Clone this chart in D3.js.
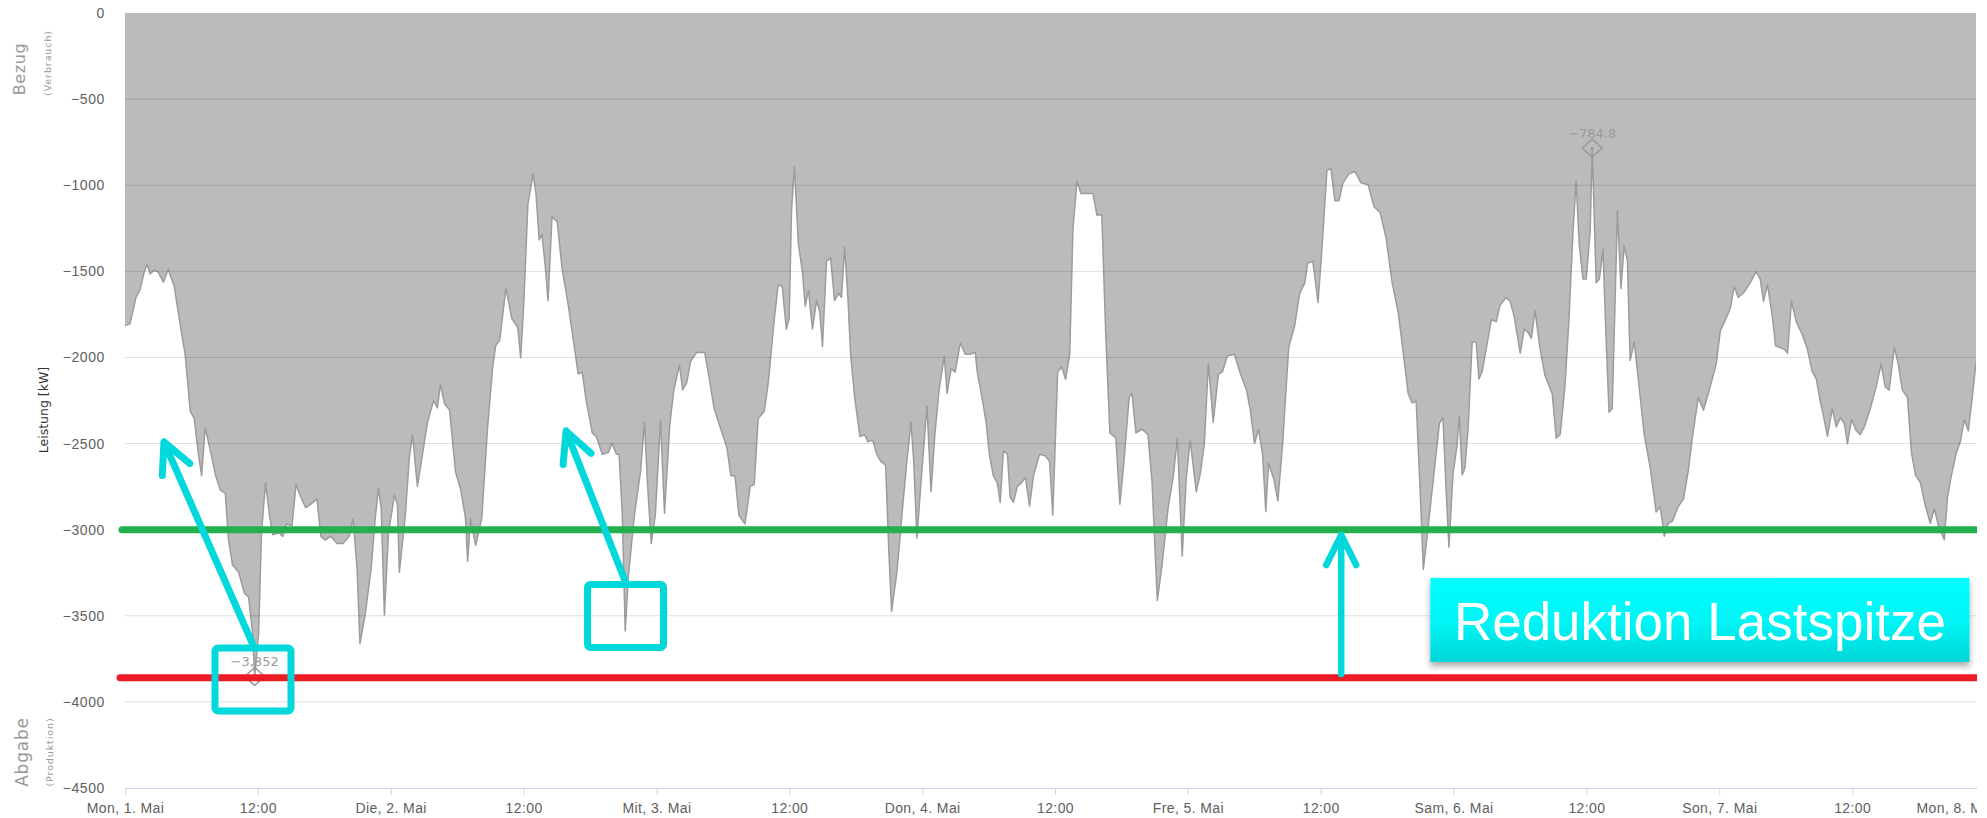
<!DOCTYPE html>
<html>
<head>
<meta charset="utf-8">
<script src="https://cdn.jsdelivr.net/npm/d3@7"></script>
<style>
  body { margin: 0; background: #fff; }
  svg { display: block; }
</style>
</head>
<body>
<div id="chart"></div>
<script>
const hours = [
  0, 0.45, 1.0, 1.36, 1.73, 2.0, 2.27, 2.63, 3.0, 3.47, 3.9, 4.45, 5.0, 5.43, 5.9, 6.26, 6.63, 6.92, 7.24, 7.71,
  8.19, 8.62, 9.06, 9.35, 9.71, 10.26, 10.8, 11.16, 11.53, 11.71, 12.07, 12.33, 12.69, 13.05, 13.34, 13.89, 14.25, 14.61, 15.08, 15.45,
  15.88, 16.32, 16.79, 17.33, 17.7, 18.06, 18.6, 19.15, 19.69, 20.24, 20.6, 20.96, 21.22, 21.69, 22.23, 22.6, 22.89, 23.14, 23.43, 23.8,
  24.34, 24.6, 24.78, 25.32, 25.68, 25.97, 26.41, 26.77, 27.32, 27.86, 28.22, 28.48, 28.88, 29.31, 29.86, 30.33, 30.76, 30.95, 31.2, 31.67,
  32.22, 32.76, 33.23, 33.49, 33.85, 34.4, 34.94, 35.48, 35.74, 36.03, 36.39, 36.86, 37.12, 37.41, 37.66, 37.95, 38.21, 38.57, 39.04, 39.48,
  40.02, 40.5, 40.93, 41.29, 41.66, 42.2, 42.56, 43.11, 43.65, 44.01, 44.38, 44.63, 44.92, 45.18, 45.47, 46.01, 46.56, 46.92, 47.17, 47.53,
  47.9, 48.37, 48.73, 49.2, 49.57, 50.08, 50.37, 50.73, 51.09, 51.64, 52.36, 52.73, 53.2, 53.82, 54.36, 54.72, 55.09, 55.45, 56.0, 56.47,
  56.83, 57.19, 57.74, 58.1, 58.65, 59.0, 59.37, 59.73, 59.99, 60.2, 60.46, 60.82, 61.19, 61.44, 61.73, 62.09, 62.46, 62.75, 63.0, 63.36,
  63.73, 64.09, 64.45, 64.71, 65.0, 65.29, 65.54, 65.9, 66.38, 66.81, 67.1, 67.54, 67.9, 68.26, 68.7, 68.99, 69.24, 69.72, 70.26, 70.62,
  70.99, 71.24, 71.53, 71.89, 72.44, 72.8, 73.16, 73.53, 74.0, 74.25, 74.62, 74.98, 75.45, 75.89, 76.25, 76.8, 76.98, 77.34, 77.78, 78.07,
  78.43, 78.79, 79.05, 79.34, 79.7, 79.95, 80.24, 80.6, 80.97, 81.33, 81.7, 82.06, 82.6, 83.15, 83.51, 83.8, 84.24, 84.6, 84.96, 85.33,
  85.62, 85.98, 86.34, 86.96, 87.43, 87.79, 88.23, 88.59, 88.96, 89.5, 89.86, 90.23, 90.7, 90.95, 91.31, 91.86, 92.4, 92.77, 93.24, 93.67,
  94.22, 94.69, 95.05, 95.49, 95.85, 96.21, 96.76, 97.12, 97.49, 97.85, 98.29, 98.76, 99.12, 99.56, 100.21, 100.75, 101.3, 101.66, 102.02, 102.39,
  102.75, 103.04, 103.29, 103.77, 104.13, 104.56, 105.11, 105.65, 106.09, 106.56, 106.82, 107.29, 107.76, 108.12, 108.56, 108.92, 109.28, 109.64, 110.01, 110.55,
  111.1, 111.64, 112.28, 112.82, 113.37, 113.91, 114.45, 115.0, 115.46, 115.9, 116.26, 116.62, 116.98, 117.27, 117.7, 118.25, 118.72, 119.04, 119.33, 119.58,
  119.94, 120.31, 120.52, 120.78, 121.03, 121.32, 121.68, 122.04, 122.29, 122.58, 122.94, 123.41, 123.85, 124.21, 124.75, 125.11, 125.47, 126.02, 126.38, 126.74,
  127.03, 127.35, 127.82, 128.26, 128.91, 129.27, 129.63, 130.06, 130.42, 130.79, 131.07, 131.36, 131.69, 131.98, 132.34, 132.52, 132.88, 133.17, 133.49, 133.79,
  134.04, 134.33, 134.58, 134.8, 135.12, 135.41, 135.7, 135.95, 136.32, 136.68, 137.22, 137.76, 138.3, 138.67, 139.03, 139.39, 139.75, 140.29, 140.76, 141.19,
  141.56, 142.1, 142.57, 143.0, 143.36, 143.72, 144.09, 144.63, 144.99, 145.35, 145.71, 146.26, 146.8, 147.34, 147.7, 147.99, 148.35, 148.79, 149.08, 149.87,
  150.16, 150.52, 150.95, 151.5, 151.96, 152.4, 152.76, 153.12, 153.48, 153.77, 154.2, 154.57, 154.93, 155.29, 155.58, 155.94, 156.37, 156.73, 157.1, 157.64,
  158.18, 158.61, 158.98, 159.34, 159.81, 160.17, 160.53, 161.0, 161.36, 161.72, 162.16, 162.59, 163.06, 163.42, 163.78, 164.32, 164.61, 164.97, 165.41, 165.77,
  166.13, 166.49, 166.85, 167.21
];
const kw = [
  -1815, -1805, -1650, -1608, -1505, -1459, -1515, -1494, -1505, -1563, -1488, -1588, -1815, -1981, -2313, -2355, -2562, -2687, -2407, -2541,
  -2687, -2770, -2790, -3060, -3205, -3247, -3371, -3392, -3599, -3852, -3599, -3018, -2728, -2915, -3029, -3018, -3039, -2967, -2977, -2738,
  -2811, -2873, -2852, -2821, -3039, -3060, -3039, -3081, -3081, -3039, -2936, -3226, -3661, -3495, -3226, -2936, -2759, -2873, -3495, -3018,
  -2800, -2852, -3247, -2915, -2583, -2448, -2749, -2604, -2376, -2251, -2293, -2158, -2272, -2303, -2666, -2770, -2936, -3184, -2936, -3091,
  -2936, -2396, -2044, -1930, -1899, -1598, -1774, -1826, -2002, -1670, -1111, -934, -1048, -1318, -1287, -1463, -1670, -1183, -1214, -1484,
  -1691, -1899, -2096, -2085, -2251, -2438, -2458, -2562, -2552, -2500, -2562, -2562, -2915, -3589, -3267, -2915, -2666, -2376, -2707, -3081,
  -2915, -2365, -2904, -2396, -2189, -2044, -2189, -2148, -2023, -1971, -1971, -2106, -2293, -2417, -2521, -2687, -2687, -2915, -2967, -2749,
  -2738, -2355, -2313, -2148, -1774, -1577, -1588, -1836, -1774, -1152, -893, -1339, -1505, -1702, -1608, -1836, -1670, -1733, -1936, -1442,
  -1422, -1670, -1629, -1650, -1360, -1650, -1981, -2231, -2459, -2448, -2490, -2479, -2562, -2604, -2625, -3122, -3475, -3247, -2852, -2604,
  -2376, -2604, -3049, -2728, -2282, -2780, -2438, -2189, -1992, -2209, -2064, -2085, -1915, -1981, -1981, -1971, -2085, -2209, -2376, -2562,
  -2687, -2728, -2842, -2541, -2562, -2811, -2842, -2749, -2728, -2697, -2863, -2687, -2562, -2573, -2604, -2915, -2085, -2054, -2127, -1981,
  -1256, -976, -1048, -1048, -1048, -1173, -1173, -1878, -2438, -2469, -2852, -2604, -2231, -2209, -2438, -2417, -2448, -2728, -3412, -3205,
  -2873, -2687, -2469, -3153, -2707, -2479, -2780, -2676, -2500, -2033, -2376, -2096, -2085, -1992, -1981, -2096, -2189, -2313, -2500, -2417,
  -2562, -2894, -2614, -2707, -2832, -2500, -1940, -1816, -1629, -1567, -1453, -1442, -1681, -1360, -914, -903, -1090, -1090, -986, -934,
  -920, -986, -997, -1126, -1158, -1309, -1566, -1738, -1975, -2211, -2264, -2254, -2769, -3231, -2984, -2662, -2383, -2350, -2769, -3102,
  -2683, -2511, -2340, -2683, -2640, -2404, -1910, -1910, -2125, -2082, -1953, -1781, -1792, -1695, -1652, -1674, -1760, -1975, -1835, -1856,
  -1889, -1727, -1953, -2104, -2211, -2469, -2447, -2168, -1781, -1266, -976, -1352, -1545, -1545, -1266, -784.8, -1566, -1545, -1373, -1910,
  -2318, -2297, -1695, -1148, -1599, -1352, -1437, -2017, -1910, -2125, -2447, -2640, -2898, -2866, -3038, -2963, -2952, -2866, -2823, -2662,
  -2469, -2232, -2307, -2211, -2125, -2039, -1846, -1770, -1717, -1588, -1652, -1620, -1566, -1502, -1545, -1674, -1577, -1760, -1932, -1953,
  -1975, -1674, -1792, -1867, -1953, -2082, -2125, -2254, -2361, -2458, -2297, -2404, -2350, -2383, -2501, -2361, -2426, -2447, -2404, -2297,
  -2168, -2039, -2168, -2190, -1942, -2039, -2190, -2232, -2554, -2683, -2726, -2855, -2963, -2877, -2973, -3059, -2812, -2683, -2554, -2490,
  -2361, -2426, -2232, -2017
];
const yTicks = [0, -500, -1000, -1500, -2000, -2500, -3000, -3500, -4000, -4500];
const weekdays = ["Son", "Mon", "Die", "Mit", "Don", "Fre", "Sam"];
const oldPeak = -3860;   // red line
const newLimit = -3000;  // green line

// annotation anchors in [hour, kW]
const arrows = [
  [[11.56, -3669], [3.52, -2491]],
  [[45.17, -3298], [39.84, -2427]],
  [[109.85, -3838], [109.85, -3031]]
];
const boxes = [[11.56, -3870], [45.21, -3501]];
const labelBox = { h0: 117.9, h1: 166.6, v0: -3280, v1: -3768, text: "Reduktion Lastspitze" };

const width = 1987, height = 818;
const plotLeft = 125, plotRight = 1976;
const t0 = new Date(2017, 4, 1);
const T = h => new Date(t0.getTime() + h * 3600e3);
const data = hours.map((h, i) => ({ t: T(h), v: kw[i] }));

const svg = d3.select("#chart").append("svg")
  .attr("width", width)
  .attr("height", height)
  .style("font-family", "'DejaVu Sans', sans-serif");

const defs = svg.append("defs");
defs.append("clipPath").attr("id", "plot")
  .append("rect").attr("x", plotLeft).attr("y", 0).attr("width", plotRight - plotLeft).attr("height", height);
const grad = defs.append("linearGradient").attr("id", "cyanGrad").attr("x1", 0).attr("y1", 0).attr("x2", 0).attr("y2", 1);
grad.append("stop").attr("offset", 0).attr("stop-color", "#00ffff");
grad.append("stop").attr("offset", 0.55).attr("stop-color", "#00f4f5");
grad.append("stop").attr("offset", 1).attr("stop-color", "#00d5d8");
defs.append("filter").attr("id", "shadow").attr("x", "-5%").attr("y", "-20%").attr("width", "110%").attr("height", "150%")
  .append("feDropShadow").attr("dx", 0).attr("dy", 4).attr("stdDeviation", 3)
  .attr("flood-color", "#000").attr("flood-opacity", 0.35);

const x = d3.scaleTime().domain([t0, T(168)]).range([plotLeft, 1985]);
const y = d3.scaleLinear().domain([-4500, 0]).range([788, 13]);

// area filled up to zero
const plot = svg.append("g").attr("clip-path", "url(#plot)");
plot.append("path")
  .datum(data)
  .attr("fill", "#bbbbbb")
  .attr("d", d3.area().x(d => x(d.t)).y0(y(0)).y1(d => y(d.v)));
plot.append("path")
  .datum(data)
  .attr("fill", "none")
  .attr("stroke", "#9c9c9c")
  .attr("stroke-width", 1.5)
  .attr("stroke-linejoin", "round")
  .attr("d", d3.line().x(d => x(d.t)).y(d => y(d.v)));

// grid lines
svg.append("g").selectAll("line")
  .data(yTicks.slice(1, -1))
  .join("line")
  .attr("x1", plotLeft).attr("x2", plotRight)
  .attr("y1", d => y(d)).attr("y2", d => y(d))
  .attr("stroke", "#000").attr("stroke-opacity", 0.13);

// y axis
const yAxis = svg.append("g")
  .attr("transform", `translate(${plotLeft},0)`)
  .call(d3.axisLeft(y).tickValues(yTicks).tickSize(0).tickPadding(20).tickFormat(d3.format("")));
yAxis.select(".domain").remove();
yAxis.selectAll("text").attr("fill", "#606060").style("font-size", "14px").style("letter-spacing", "0.6px");

// x axis
const fmtTime = d3.timeFormat("%H:%M");
const xAxis = svg.append("g")
  .attr("transform", `translate(0,${y(-4500)})`)
  .call(d3.axisBottom(x)
    .ticks(d3.timeHour.every(12))
    .tickSize(7).tickSizeOuter(0).tickPadding(8)
    .tickFormat(d => d.getHours() === 0 ? `${weekdays[d.getDay()]}, ${d.getDate()}. Mai` : fmtTime(d)));
xAxis.select(".domain").attr("stroke", "#ccd6eb");
xAxis.selectAll(".tick line").attr("stroke", "#ccd6eb");
xAxis.selectAll("text").attr("fill", "#606060").style("font-size", "14px").style("letter-spacing", "0.4px");
xAxis.selectAll(".tick").filter((d, i, n) => i === n.length - 1)
  .select("text").attr("text-anchor", "start").attr("x", -69);

// axis titles
const title = (txt, cx, cy, size, color, spacing) => svg.append("text")
  .attr("transform", `translate(${cx},${cy}) rotate(-90)`)
  .attr("text-anchor", "middle").attr("dy", "0.35em")
  .attr("fill", color).style("font-size", size + "px")
  .style("letter-spacing", spacing + "px")
  .text(txt);
title("Bezug", 19, 69, 16, "#999", 0.6);
title("(Verbrauch)", 48, 63, 9.5, "#999", 0.9);
title("Leistung [kW]", 44, 410, 12.5, "#333", 0);
title("Abgabe", 22, 752, 17, "#999", 0.8);
title("(Produktion)", 50, 752, 9.5, "#999", 0.9);

// min / max markers
const markers = [
  { i: d3.minIndex(kw), f: d3.format(",") },
  { i: d3.maxIndex(kw), f: d3.format(",.1f") }
];
markers.forEach(m => {
  const cx = x(T(hours[m.i])), cy = y(kw[m.i]);
  svg.append("path")
    .attr("d", `M${cx},${cy - 9}L${cx + 10},${cy}L${cx},${cy + 9}L${cx - 10},${cy}Z`)
    .attr("fill", "none").attr("stroke", "#9a9a9a").attr("stroke-width", 1.5);
  svg.append("circle").attr("cx", cx).attr("cy", cy).attr("r", 1.5).attr("fill", "#9a9a9a");
  svg.append("text")
    .attr("x", cx).attr("y", cy - 10)
    .attr("text-anchor", "middle")
    .attr("fill", "#9a9a9a").style("font-size", "13px")
    .text(m.f(kw[m.i]));
});

// limit lines
svg.append("line")
  .attr("x1", 122).attr("x2", 1980)
  .attr("y1", y(newLimit)).attr("y2", y(newLimit))
  .attr("stroke", "#22b14c").attr("stroke-width", 7).attr("stroke-linecap", "round");
svg.append("line")
  .attr("x1", 120).attr("x2", 1980)
  .attr("y1", y(oldPeak)).attr("y2", y(oldPeak))
  .attr("stroke", "#ed1c24").attr("stroke-width", 7).attr("stroke-linecap", "round");

// cyan annotations
const cyan = "#00d8dc";
const ann = svg.append("g")
  .attr("fill", "none").attr("stroke", cyan)
  .attr("stroke-linecap", "round").attr("stroke-linejoin", "round");
arrows.forEach(([a, b], k) => {
  const x1 = x(T(a[0])), y1 = y(a[1]), x2 = x(T(b[0])), y2 = y(b[1]);
  const len = Math.hypot(x2 - x1, y2 - y1), ux = (x2 - x1) / len, uy = (y2 - y1) / len;
  const bx = x2 - ux * 30, by = y2 - uy * 30;
  ann.append("path")
    .attr("stroke-width", k === 2 ? 6.5 : 7)
    .attr("d", `M${x1},${y1}L${x2},${y2}M${bx - uy * 15},${by + ux * 15}L${x2},${y2}L${bx + uy * 15},${by - ux * 15}`);
});
boxes.forEach(b => {
  ann.append("rect")
    .attr("x", x(T(b[0])) - 38).attr("y", y(b[1]) - 31.5)
    .attr("width", 76).attr("height", 63).attr("rx", 3)
    .attr("stroke-width", 7);
});

const bx0 = x(T(labelBox.h0)), bx1 = x(T(labelBox.h1));
const by0 = y(labelBox.v0), by1 = y(labelBox.v1);
svg.append("rect")
  .attr("x", bx0).attr("y", by0)
  .attr("width", bx1 - bx0).attr("height", by1 - by0)
  .attr("fill", "url(#cyanGrad)")
  .attr("filter", "url(#shadow)");
svg.append("text")
  .attr("x", (bx0 + bx1) / 2).attr("y", by0 + 62)
  .attr("text-anchor", "middle")
  .attr("fill", "#fff")
  .style("font-family", "'Liberation Sans', Arial, sans-serif")
  .style("font-size", "53px")
  .text(labelBox.text);

// picture is cut at the right edge
svg.append("rect").attr("x", 1977).attr("y", 0).attr("width", width - 1977).attr("height", height).attr("fill", "#fff");
</script>
</body>
</html>
